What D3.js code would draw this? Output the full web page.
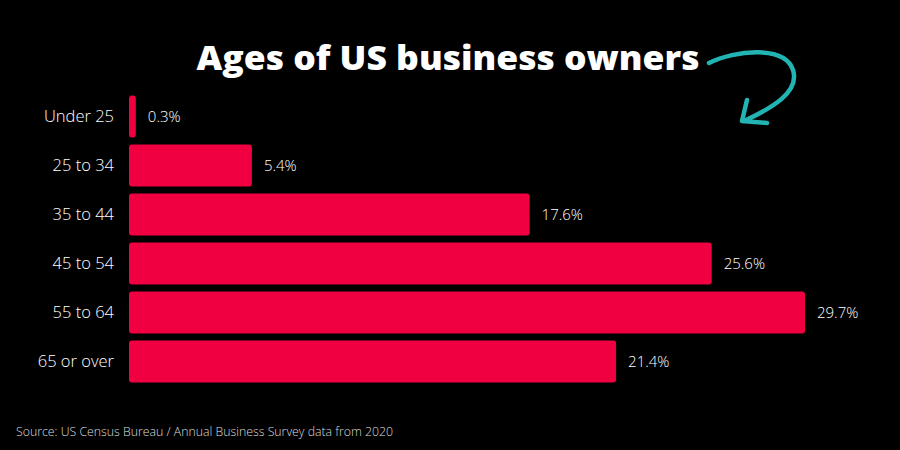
<!DOCTYPE html>
<html><head><meta charset="utf-8">
<script src="https://cdn.jsdelivr.net/npm/d3@7"></script>
<style>body{margin:0;background:#000}svg{display:block}</style>
</head><body>
<script>
const categories = ["Under 25","25 to 34","35 to 44","45 to 54","55 to 64","65 or over"];
const values = [0.3,5.4,17.6,25.6,29.7,21.4];
const valueLabels = ["0.3%","5.4%","17.6%","25.6%","29.7%","21.4%"];
const title = "Ages of US business owners";
const source = "Source: US Census Bureau / Annual Business Survey data from 2020";

const W=900,H=450;
const svg=d3.select("body").append("svg").attr("width",W).attr("height",H).style("background","#000");
const x=d3.scaleLinear().domain([0,29.7]).range([129,805]);
const y=d3.scaleBand().domain(categories).range([92,386]).paddingInner(0.143).paddingOuter(0.07);

svg.append("text").attr("x",448).attr("y",70).attr("text-anchor","middle")
  .attr("font-family","Open Sans").attr("font-weight",800).attr("font-size",34).attr("fill","#fff")
  .attr("textLength",503).attr("lengthAdjust","spacingAndGlyphs").text(title);

// arrow
svg.append("path").attr("d","M709,63 C735,50 785,45 793,70 C800,92 772,108 744,121")
  .attr("fill","none").attr("stroke","#22b3b3").attr("stroke-width",4.5).attr("stroke-linecap","round");
svg.append("path").attr("d","M747,100 L742,121 L767,123")
  .attr("fill","none").attr("stroke","#22b3b3").attr("stroke-width",4.5).attr("stroke-linecap","round").attr("stroke-linejoin","round");

const g=svg.append("g");
g.selectAll("rect").data(values).join("rect")
  .attr("x",x(0)).attr("y",(d,i)=>y(categories[i]))
  .attr("width",d=>x(d)-x(0)).attr("height",y.bandwidth())
  .attr("rx",3).attr("fill","#f00040");
g.selectAll("text.v").data(values).join("text").attr("class","v")
  .attr("x",d=>x(d)+12).attr("y",(d,i)=>y(categories[i])+y.bandwidth()/2)
  .attr("dy","0.35em").attr("font-family","Open Sans").attr("font-weight",300).attr("font-size",15)
  .attr("fill","#fff").text((d,i)=>valueLabels[i]);
g.selectAll("text.c").data(categories).join("text").attr("class","c")
  .attr("x",114).attr("y",d=>y(d)+y.bandwidth()/2)
  .attr("dy","0.35em").attr("text-anchor","end").attr("font-family","Open Sans").attr("font-weight",300).attr("font-size",16.5)
  .attr("fill","#fff").text(d=>d);

svg.append("text").attr("x",16).attr("y",436).attr("font-family","Open Sans").attr("font-weight",300)
  .attr("font-size",12.3).attr("fill","#ddd").text(source);
</script>
</body></html>
